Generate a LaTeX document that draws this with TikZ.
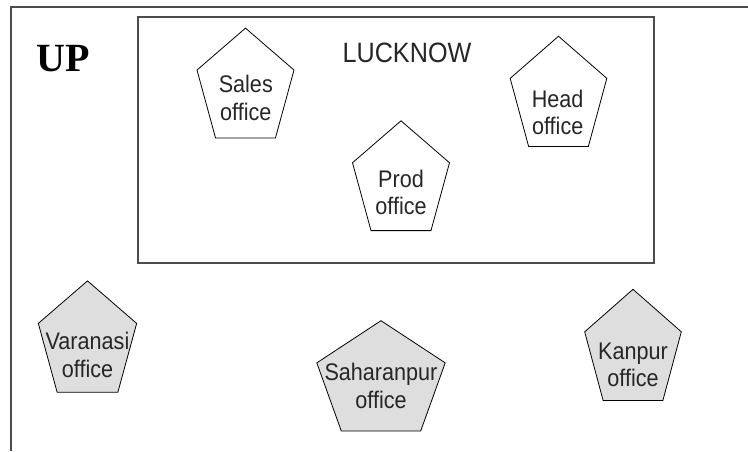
\documentclass[tikz,border=0pt]{standalone}
\usepackage{fontspec}
\setmainfont{Liberation Sans}[FakeStretch=0.9]
\newfontfamily\upfont{Liberation Serif}
\usepackage{tikz}

\begin{document}
\begin{tikzpicture}[x=1pt,y=1pt,
frame/.style={draw=black!70,line width=1.2pt},
office/.style={draw=black,line width=0.8pt,line join=miter},
branch/.style={office,fill=black!13},
label/.style={align=center,inner sep=0pt,text=black!85,
font=\fontsize{24}{27.4}\selectfont}]
\useasboundingbox (0,0) rectangle (748,-451);
% state and city frames
\draw[frame] (11,-451) -- (11,-7) -- (748,-7);
\draw[frame] (138,-17) rectangle (654,-263);
\node[inner sep=0pt,font=\upfont\bfseries\fontsize{40}{40}\selectfont] (up) at (63.3,-58.3) {UP};
\node[inner sep=0pt,text=black!85,font=\fontsize{28}{28}\selectfont] (lucknow) at (407,-53.3) {LUCKNOW};
% offices in the city
\draw[office,shift={(245.5,-88.8)},yscale=1.19] (90:51) -- (162:51) -- (234:51) -- (306:51) -- (18:51) -- cycle;
\node[label] (sales) at (245.8,-98) {Sales\\office};
\draw[office,shift={(558.5,-97.2)},yscale=1.2] (90:50.8) -- (162:50.8) -- (234:50.8) -- (306:50.8) -- (18:50.8) -- cycle;
\node[label] (head) at (557.7,-112.5) {Head\\office};
\draw[office,shift={(401,-181.5)},yscale=1.19] (90:51) -- (162:51) -- (234:51) -- (306:51) -- (18:51) -- cycle;
\node[label] (prod) at (401,-192.5) {Prod\\office};
% offices outside
\draw[branch,shift={(87.5,-342.4)},yscale=1.19] (90:51.7) -- (162:51.7) -- (234:51.7) -- (306:51.7) -- (18:51.7) -- cycle;
\node[label] (varanasi) at (87.5,-355) {Varanasi\\office};
\draw[branch,shift={(381,-381.7)},yscale=0.904] (90:67.5) -- (162:67.5) -- (234:67.5) -- (306:67.5) -- (18:67.5) -- cycle;
\node[label] (saharanpur) at (381,-385.8) {Saharanpur\\office};
\draw[branch,shift={(633,-350.8)},yscale=1.21] (90:50.8) -- (162:50.8) -- (234:50.8) -- (306:50.8) -- (18:50.8) -- cycle;
\node[label] (kanpur) at (633,-365) {Kanpur\\office};
\end{tikzpicture}
\end{document}
